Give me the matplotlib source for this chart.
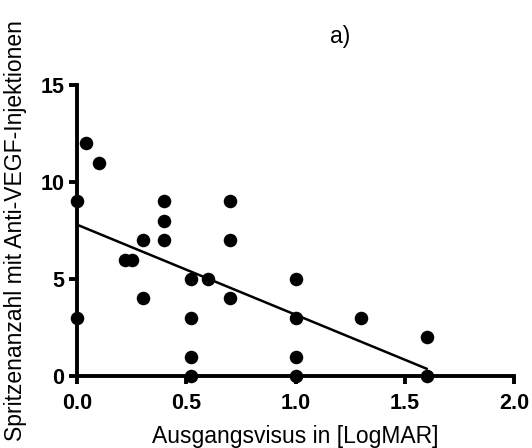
import numpy as np
import matplotlib
matplotlib.use("Agg")
import matplotlib.pyplot as plt

plt.rcParams['font.family'] = ['Liberation Sans', 'DejaVu Sans']

visus = [0, 0, 0.04, 0.1, 0.22, 0.25, 0.3, 0.3, 0.4, 0.4, 0.4,
         0.52, 0.52, 0.52, 0.52, 0.6, 0.7, 0.7, 0.7,
         1.0, 1.0, 1.0, 1.0, 1.3, 1.6, 1.6]
spritzen = [9, 3, 12, 11, 6, 6, 7, 4, 9, 8, 7,
            5, 3, 1, 0, 5, 9, 7, 4,
            5, 3, 1, 0, 3, 2, 0]
xticks = [0.0, 0.5, 1.0, 1.5, 2.0]
yticks = [0, 5, 10, 15]

fig = plt.figure(figsize=(5.32, 4.48), dpi=100)
ax = fig.add_axes([77/532, 1-376/448, (514-77)/532, (376-85)/448])

x = np.array(visus)
y = np.array(spritzen)
slope, intercept = np.polyfit(x, y, 1)
xl = np.array([x.min(), x.max()])
ax.plot(xl, intercept + slope*xl, color='black', lw=1.8, zorder=2)
ax.scatter(x, y, s=95, color='black', zorder=3, clip_on=False, linewidths=0)

ax.set_xlim(0, 2.0)
ax.set_ylim(0, 15)
ax.set_xticks(xticks)
ax.set_yticks(yticks)
ax.set_xticklabels([f"{t:.1f}" for t in xticks], fontweight='bold', fontsize=15.5)
ax.set_yticklabels([str(t) for t in yticks], fontweight='bold', fontsize=15.5)
for s in ['top', 'right']:
    ax.spines[s].set_visible(False)
for s in ['left', 'bottom']:
    ax.spines[s].set_linewidth(2.8)
ax.tick_params(width=2.8, length=6, direction='out', pad=3)
ax.tick_params(axis='x', pad=6)
ax.set_xlabel('Ausgangsvisus in [LogMAR]', fontsize=16.5, labelpad=8)
ax.set_ylabel('Spritzenanzahl mit Anti-VEGF-Injektionen', fontsize=16.5, labelpad=10)
fig.text(340/532, 1-37/448, 'a)', fontsize=16.5, ha='center', va='center')

fig.savefig('out.png', dpi=100)
